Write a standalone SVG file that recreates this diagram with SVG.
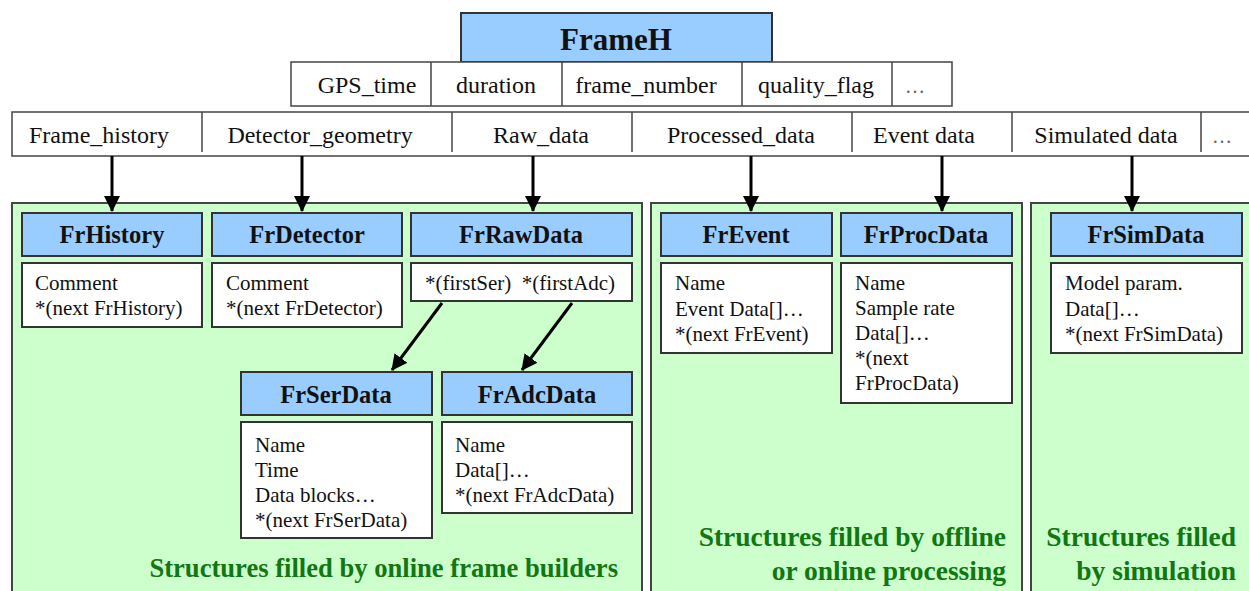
<svg xmlns="http://www.w3.org/2000/svg" width="1249" height="591" viewBox="0 0 1249 591">
<defs>
<style>
.bg{fill:#ffffff}
.cell{fill:#ffffff;stroke:#444;stroke-width:1.5}
.div{stroke:#444;stroke-width:1.5}
.panel{fill:#ccffcc;stroke:#444;stroke-width:2}
.head{fill:#99ccff;stroke:#333;stroke-width:2}
.body{fill:#ffffff;stroke:#333;stroke-width:2}
.row{font-family:"Liberation Serif",serif;font-size:24px;fill:#111;text-anchor:middle}
.title{font-family:"Liberation Serif",serif;font-size:24.5px;font-weight:bold;fill:#111;text-anchor:middle}
.big{font-family:"Liberation Serif",serif;font-size:31px;font-weight:bold;fill:#111;text-anchor:middle}
.txt{font-family:"Liberation Serif",serif;font-size:21px;fill:#111}
.foot{font-family:"Liberation Serif",serif;font-size:27.5px;font-weight:bold;fill:#117711;text-anchor:end}
.foot1{font-size:26.6px}
.dots{font-family:"Liberation Serif",serif;font-size:20px;fill:#666;text-anchor:middle}
.arrow{stroke:#000;stroke-width:3;fill:none}
</style>
<marker id="ah" markerUnits="userSpaceOnUse" markerWidth="16" markerHeight="16" viewBox="0 0 16 16" refX="15" refY="8" orient="auto">
<path d="M0,0 L16,8 L0,16 Z" fill="#000"/>
</marker>
</defs>
<rect class="bg" x="0" y="0" width="1249" height="591"/>

<!-- FrameH header -->
<g id="frameh">
<rect class="head" x="461" y="13" width="311" height="49"/>
<text class="big" x="616" y="50">FrameH</text>
</g>
<g id="frameh-fields">
<rect class="cell" x="291" y="62" width="661" height="44"/>
<line class="div" x1="431" y1="62" x2="431" y2="106"/>
<line class="div" x1="562" y1="62" x2="562" y2="106"/>
<line class="div" x1="742" y1="62" x2="742" y2="106"/>
<line class="div" x1="892" y1="62" x2="892" y2="106"/>
<text class="row" x="367" y="93">GPS_time</text>
<text class="row" x="496" y="93">duration</text>
<text class="row" x="646" y="93">frame_number</text>
<text class="row" x="816" y="93">quality_flag</text>
<text class="dots" x="915" y="93">…</text>
</g>
<g id="frameh-data">
<rect class="cell" x="12" y="112" width="1250" height="44"/>
<line class="div" x1="202" y1="112" x2="202" y2="152"/>
<line class="div" x1="452" y1="112" x2="452" y2="152"/>
<line class="div" x1="632" y1="112" x2="632" y2="152"/>
<line class="div" x1="852" y1="112" x2="852" y2="152"/>
<line class="div" x1="1012" y1="112" x2="1012" y2="152"/>
<line class="div" x1="1201" y1="112" x2="1201" y2="152"/>
<text class="row" x="99" y="143">Frame_history</text>
<text class="row" x="320" y="143">Detector_geometry</text>
<text class="row" x="541" y="143">Raw_data</text>
<text class="row" x="741" y="143">Processed_data</text>
<text class="row" x="924" y="143">Event data</text>
<text class="row" x="1106" y="143">Simulated data</text>
<text class="dots" x="1222" y="143">…</text>
</g>

<!-- Panels -->
<g id="panel-online">
<rect class="panel" x="12" y="203" width="630" height="400"/>
<text class="foot foot1" x="618" y="577">Structures filled by online frame builders</text>
</g>
<g id="panel-processing">
<rect class="panel" x="651" y="203" width="371" height="400"/>
<text class="foot" x="1006" y="546">Structures filled by offline</text>
<text class="foot" x="1006" y="580">or online processing</text>
</g>
<g id="panel-simulation">
<rect class="panel" x="1031" y="203" width="240" height="400"/>
<text class="foot" x="1236" y="546">Structures filled</text>
<text class="foot" x="1236" y="580">by simulation</text>
</g>

<!-- Structures -->
<g id="frhistory">
<rect class="head" x="22" y="213" width="180" height="43"/>
<text class="title" x="112" y="243">FrHistory</text>
<rect class="body" x="22" y="263" width="180" height="64"/>
<text class="txt" x="35" y="290">Comment</text>
<text class="txt" x="35" y="315">*(next FrHistory)</text>
</g>
<g id="frdetector">
<rect class="head" x="212" y="213" width="190" height="43"/>
<text class="title" x="307" y="243">FrDetector</text>
<rect class="body" x="212" y="263" width="190" height="64"/>
<text class="txt" x="226" y="290">Comment</text>
<text class="txt" x="226" y="315">*(next FrDetector)</text>
</g>
<g id="frrawdata">
<rect class="head" x="411" y="213" width="221" height="43"/>
<text class="title" x="521" y="243">FrRawData</text>
<rect class="body" x="411" y="263" width="221" height="38"/>
<text class="txt" x="425" y="290" xml:space="preserve">*(firstSer)  *(firstAdc)</text>
</g>
<g id="frevent">
<rect class="head" x="661" y="213" width="171" height="43"/>
<text class="title" x="746" y="243">FrEvent</text>
<rect class="body" x="661" y="263" width="171" height="90"/>
<text class="txt" x="675" y="290">Name</text>
<text class="txt" x="675" y="315.5">Event Data[]…</text>
<text class="txt" x="675" y="341">*(next FrEvent)</text>
</g>
<g id="frprocdata">
<rect class="head" x="841" y="213" width="171" height="43"/>
<text class="title" x="926" y="243">FrProcData</text>
<rect class="body" x="841" y="263" width="171" height="140"/>
<text class="txt" x="855" y="290">Name</text>
<text class="txt" x="855" y="315">Sample rate</text>
<text class="txt" x="855" y="340">Data[]…</text>
<text class="txt" x="855" y="365">*(next</text>
<text class="txt" x="855" y="390">FrProcData)</text>
</g>
<g id="frsimdata">
<rect class="head" x="1051" y="213" width="191" height="43"/>
<text class="title" x="1146" y="243">FrSimData</text>
<rect class="body" x="1051" y="263" width="191" height="90"/>
<text class="txt" x="1065" y="290">Model param.</text>
<text class="txt" x="1065" y="315.5">Data[]…</text>
<text class="txt" x="1065" y="341">*(next FrSimData)</text>
</g>
<g id="frserdata">
<rect class="head" x="241" y="372" width="191" height="43"/>
<text class="title" x="336" y="403">FrSerData</text>
<rect class="body" x="241" y="422" width="191" height="116"/>
<text class="txt" x="255" y="452">Name</text>
<text class="txt" x="255" y="477">Time</text>
<text class="txt" x="255" y="502">Data blocks…</text>
<text class="txt" x="255" y="527">*(next FrSerData)</text>
</g>
<g id="fradcdata">
<rect class="head" x="442" y="372" width="190" height="43"/>
<text class="title" x="537" y="403">FrAdcData</text>
<rect class="body" x="442" y="422" width="190" height="91"/>
<text class="txt" x="455" y="452">Name</text>
<text class="txt" x="455" y="477">Data[]…</text>
<text class="txt" x="455" y="502">*(next FrAdcData)</text>
</g>

<!-- Connectors -->
<g id="connectors">
<line class="arrow" x1="112" y1="156" x2="112" y2="211" marker-end="url(#ah)"/>
<line class="arrow" x1="302" y1="156" x2="302" y2="211" marker-end="url(#ah)"/>
<line class="arrow" x1="533" y1="156" x2="533" y2="211" marker-end="url(#ah)"/>
<line class="arrow" x1="751" y1="156" x2="751" y2="211" marker-end="url(#ah)"/>
<line class="arrow" x1="942" y1="156" x2="942" y2="211" marker-end="url(#ah)"/>
<line class="arrow" x1="1132" y1="156" x2="1132" y2="211" marker-end="url(#ah)"/>
<line class="arrow" x1="442" y1="303" x2="392" y2="370" marker-end="url(#ah)"/>
<line class="arrow" x1="572" y1="303" x2="522" y2="370" marker-end="url(#ah)"/>
</g>
</svg>
